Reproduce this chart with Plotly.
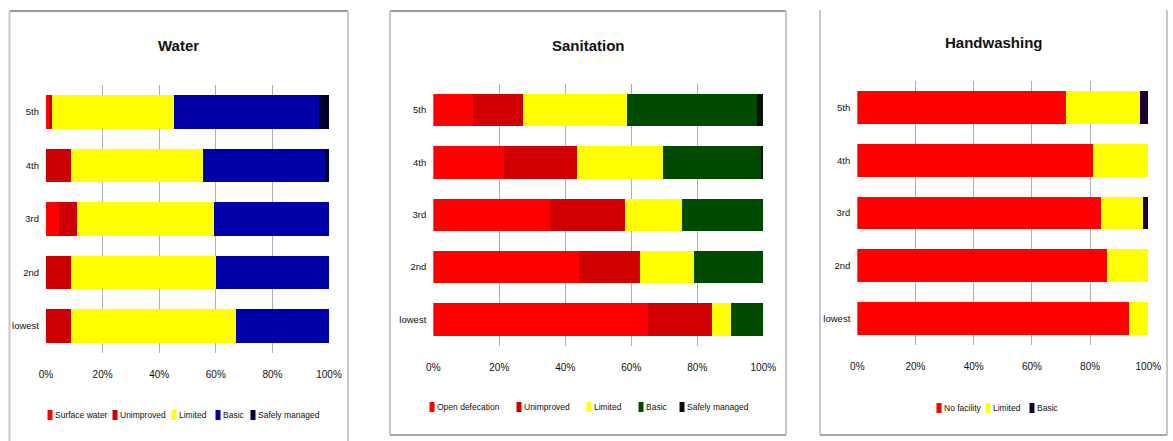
import plotly.graph_objects as go

W, H = 1173, 441

quintiles = ["lowest", "2nd", "3rd", "4th", "5th"]

# Water service ladder (% of households)
water_surface = [0, 0, 4.7, 0, 1.0]
water_unimproved = [8.7, 8.7, 6.1, 8.9, 1.1]
water_limited = [58.4, 51.2, 48.6, 46.7, 43.3]
water_basic = [32.9, 40.1, 40.6, 43.0, 51.2]
water_safely = [0, 0, 0, 1.4, 3.4]

# Sanitation service ladder (% of households)
san_open = [65.2, 44.1, 35.4, 21.4, 12.1]
san_unimproved = [19.3, 18.5, 22.6, 22.0, 15.2]
san_limited = [5.6, 16.5, 17.3, 26.3, 31.3]
san_basic = [9.9, 20.9, 24.7, 29.6, 39.6]
san_safely = [0, 0, 0, 0.7, 1.8]

# Handwashing service ladder (% of households)
hw_none = [93.4, 85.9, 83.6, 81.1, 71.6]
hw_limited = [6.6, 14.1, 14.7, 18.9, 25.5]
hw_basic = [0, 0, 1.7, 0, 2.9]

x_ticks = [0, 20, 40, 60, 80, 100]
x_tick_labels = ["0%", "20%", "40%", "60%", "80%", "100%"]

FONT = "Liberation Sans, Arial, sans-serif"


def px(x):
    return x / W


def py(y):
    return 1 - y / H


# Each panel: pixel geometry of plot area, frame, title and legend row
panels = [
    dict(title="Water", xd=(46, 329), yd=(85.25, 352.75),
         box=(9.5, 11, 348, 445), title_y=45, legend_y=415,
         legend_x=[50, 115, 174, 218, 253],
         series=[("Surface water", water_surface, "#ff0000"),
                 ("Unimproved", water_unimproved, "#cc0000"),
                 ("Limited", water_limited, "#ffff00"),
                 ("Basic", water_basic, "#0000a8"),
                 ("Safely managed", water_safely, "#000030")]),
    dict(title="Sanitation", xd=(433.3, 763.3), yd=(83.8, 345.7),
         box=(390, 11, 786, 435), title_y=45, legend_y=407,
         legend_x=[432, 519, 589, 641, 682],
         series=[("Open defecation", san_open, "#ff0000"),
                 ("Unimproved", san_unimproved, "#d00000"),
                 ("Limited", san_limited, "#ffff00"),
                 ("Basic", san_basic, "#004a00"),
                 ("Safely managed", san_safely, "#061006")]),
    dict(title="Handwashing", xd=(857.3, 1148.3), yd=(81, 345),
         box=(820, None, 1167, 435), title_y=42, legend_y=408,
         legend_x=[939, 988, 1032],
         series=[("No facility", hw_none, "#ff0000"),
                 ("Limited", hw_limited, "#ffff00"),
                 ("Basic", hw_basic, "#1a0030")]),
]

fig = go.Figure()
shapes = []
annotations = []
layout_extra = {}

for i, p in enumerate(panels, start=1):
    xa = "x" if i == 1 else f"x{i}"
    ya = "y" if i == 1 else f"y{i}"
    for name, vals, color in p["series"]:
        fig.add_trace(go.Bar(
            y=quintiles, x=vals, name=name, orientation="h",
            marker=dict(color=color, line=dict(width=0)),
            width=0.62, xaxis=xa, yaxis=ya, showlegend=False,
        ))
    xkey = "xaxis" if i == 1 else f"xaxis{i}"
    ykey = "yaxis" if i == 1 else f"yaxis{i}"
    layout_extra[xkey] = dict(
        domain=[px(p["xd"][0]), px(p["xd"][1])], anchor=ya,
        range=[0, 100], tickvals=x_ticks, ticktext=x_tick_labels,
        showgrid=True, gridcolor="#a9adbd", gridwidth=1,
        zeroline=False, showline=False, ticks="", automargin=False,
        ticklabelstandoff=14, layer="below traces",
        tickfont=dict(family=FONT, size=10, color="#111"),
    )
    layout_extra[ykey] = dict(
        domain=[py(p["yd"][1]), py(p["yd"][0])], anchor=xa,
        type="category", categoryorder="array", categoryarray=quintiles,
        range=[-0.5, 4.5], showgrid=False, zeroline=False, showline=False,
        ticks="", ticklabelstandoff=6, automargin=False,
        tickfont=dict(family=FONT, size=9.5, color="#111"),
    )
    annotations.append(dict(
        text=f"<b>{p['title']}</b>", xref="paper", yref="paper",
        x=px((p["box"][0] + p["box"][2]) / 2), y=py(p["title_y"]),
        xanchor="center", yanchor="middle", showarrow=False,
        font=dict(family=FONT, size=15, color="#111"),
    ))
    # legend row: swatch + label for each series
    for (name, _vals, color), lx in zip(p["series"], p["legend_x"]):
        ly = p["legend_y"]
        shapes.append(dict(type="rect", xref="paper", yref="paper",
                           x0=px(lx - 2.5), x1=px(lx + 2.5),
                           y0=py(ly + 5), y1=py(ly - 5),
                           fillcolor=color, line=dict(width=0)))
        annotations.append(dict(
            text=name, xref="paper", yref="paper",
            x=px(lx + 3), y=py(ly), xanchor="left", yanchor="middle",
            showarrow=False, font=dict(family=FONT, size=8.5, color="#111"),
        ))
    # panel frame
    x0, y0, x1, y1 = p["box"]
    if y0 is not None:
        shapes.append(dict(type="line", xref="paper", yref="paper",
                           x0=px(x0), x1=px(x1), y0=py(y0), y1=py(y0),
                           line=dict(color="#9a9a9a", width=2)))
    top = y0 if y0 is not None else 10
    shapes.append(dict(type="line", xref="paper", yref="paper",
                       x0=px(x0), x1=px(x0), y0=py(top), y1=py(y1),
                       line=dict(color="#c8c8c8", width=2)))
    shapes.append(dict(type="line", xref="paper", yref="paper",
                       x0=px(x1), x1=px(x1), y0=py(top), y1=py(y1),
                       line=dict(color="#c8c8c8", width=2)))
    if y1 < H:
        shapes.append(dict(type="line", xref="paper", yref="paper",
                           x0=px(x0), x1=px(x1), y0=py(y1), y1=py(y1),
                           line=dict(color="#a8a8a8", width=2)))

fig.update_layout(
    width=W, height=H, margin=dict(l=0, r=0, t=0, b=0, autoexpand=False),
    barmode="stack", showlegend=False,
    paper_bgcolor="white", plot_bgcolor="white",
    shapes=shapes, annotations=annotations,
    **layout_extra,
)

fig.write_html("out.html")
